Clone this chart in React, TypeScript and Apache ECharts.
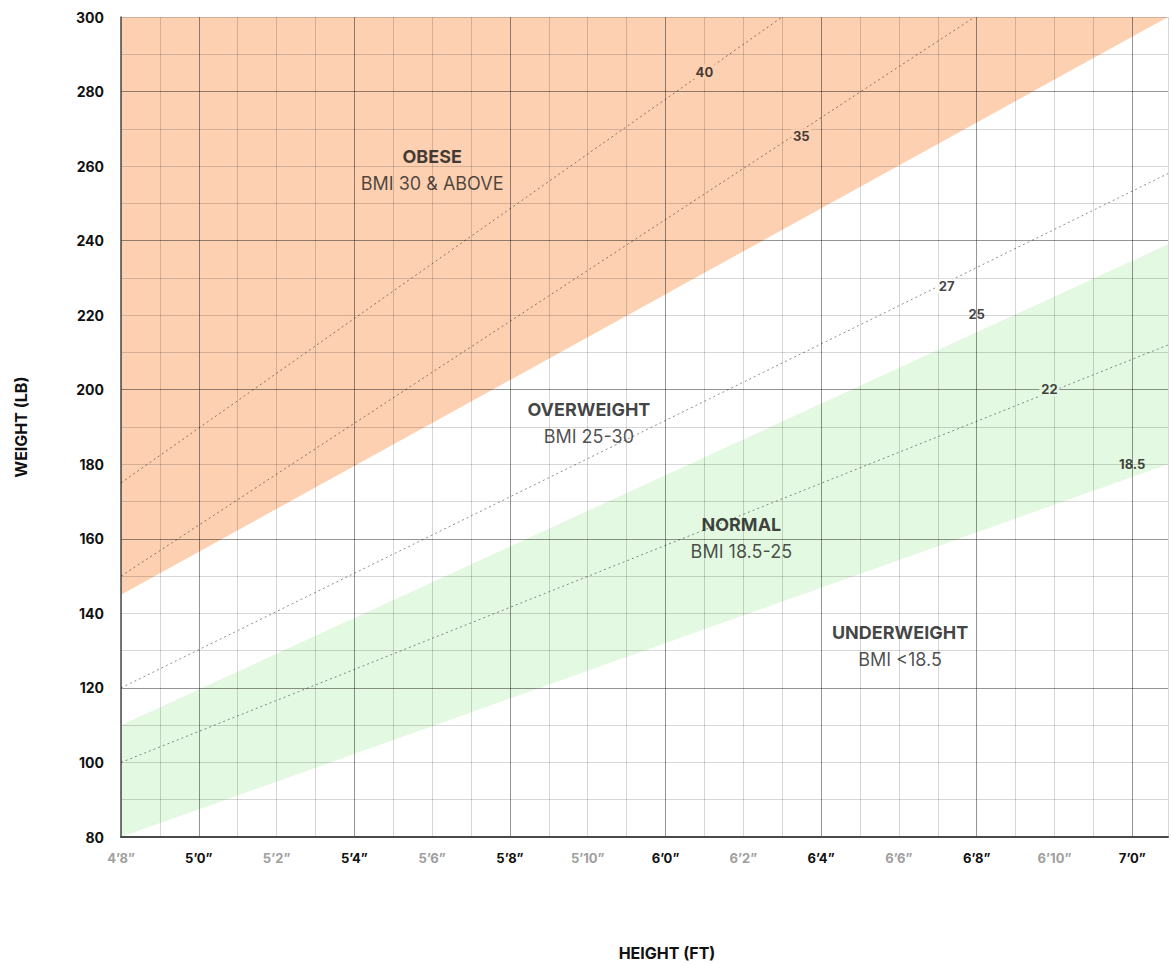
import React, { useEffect, useRef } from "react";
import * as echarts from "echarts";

// Height axis (inches). Labels placed every 2 "inches" starting at the left edge.
const heightTickValues = [58, 60, 62, 64, 66, 68, 70, 72, 74, 76, 78, 80, 82, 84];
const heightTickLabels = [
  "4’8”", "5’0”", "5’2”", "5’4”", "5’6”", "5’8”", "5’10”",
  "6’0”", "6’2”", "6’4”", "6’6”", "6’8”", "6’10”", "7’0”",
];
const heightMin = 58;
const heightMax = 84.92;
const weightMin = 80;
const weightMax = 300;

// Band edges, weight at left edge and right edge
const bandHeights = [58, 84.92];
const obeseLower = [145, 300];
const normalLower = [80, 180];
const normalUpper = [110, 239];

// Dotted BMI reference lines [height, weight]
const bmi40Line = [[58, 175], [75.0, 300]];
const bmi35Line = [[58, 150], [79.95, 300]];
const bmi27Line = [[58, 120], [84.92, 258]];
const bmi22Line = [[58, 100], [84.92, 212]];

// BMI number labels
const bmiLabelNames = ["40", "35", "27", "25", "22", "18.5"];
const bmiLabelHeights = [73.0, 75.49, 79.23, 80.0, 81.87, 84.0];
const bmiLabelWeights = [285.3, 268.1, 227.8, 220.3, 200.2, 180.1];

// Zone labels
const zoneTitles = ["OBESE", "OVERWEIGHT", "NORMAL", "UNDERWEIGHT"];
const zoneRanges = ["BMI 30 & ABOVE", "BMI 25-30", "BMI 18.5-25", "BMI <18.5"];
const zoneHeights = [66.0, 70.03, 73.95, 78.03];
const zoneWeights = [259.0, 191.1, 160.2, 131.2];

const ORANGE = "#fcd0b1";
const GREEN = "#e4f9e1";
const MINOR = "rgba(0,0,0,0.16)";
const MAJOR = "rgba(0,0,0,0.42)";
const FONT = "Inter";

export default function App() {
  const ref = useRef<HTMLDivElement>(null);

  useEffect(() => {
    if (!ref.current) return;
    const chart = echarts.init(ref.current, null, { renderer: "svg" });

    const labelBg = [ORANGE, ORANGE, "#ffffff", "transparent", GREEN, "transparent"];

    const dotted = (name: string, data: number[][]) => ({
      name,
      type: "line",
      data,
      symbol: "none",
      silent: true,
      z: 3,
      lineStyle: { type: [2, 3], width: 1, color: "rgba(0,0,0,0.45)" },
    });

    const option: any = {
      animation: false,
      grid: { left: 121, right: 0, top: 17, bottom: 128, containLabel: false },
      xAxis: {
        type: "value",
        min: heightMin,
        max: heightMax,
        interval: 1,
        z: 2,
        axisLine: { show: true, lineStyle: { color: "#4a4a4a", width: 2 } },
        axisTick: { show: false },
        splitLine: { show: true, lineStyle: { color: [MINOR, MINOR, MAJOR, MINOR], width: 1 } },
        axisLabel: {
          margin: 14,
          formatter: (v: number) => {
            const i = heightTickValues.indexOf(v);
            if (i < 0) return "";
            return (v - 58) % 4 === 0 ? `{g|${heightTickLabels[i]}}` : `{b|${heightTickLabels[i]}}`;
          },
          rich: {
            g: { color: "#a0a0a0", fontWeight: "bold", fontSize: 13, fontFamily: FONT },
            b: { color: "#111111", fontWeight: "bold", fontSize: 13, fontFamily: FONT },
          },
        },
      },
      yAxis: {
        type: "value",
        min: weightMin,
        max: weightMax,
        interval: 10,
        z: 2,
        axisLine: { show: true, lineStyle: { color: "#4a4a4a", width: 1.5 } },
        axisTick: { show: false },
        splitLine: { show: true, lineStyle: { color: [MAJOR, MINOR, MINOR, MINOR], width: 1 } },
        axisLabel: {
          margin: 17,
          color: "#111111",
          fontWeight: "bold",
          fontSize: 14,
          fontFamily: FONT,
          formatter: (v: number) => (v % 20 === 0 ? String(v) : ""),
        },
      },
      graphic: [
        {
          type: "text",
          x: 21,
          y: 427,
          rotation: Math.PI / 2,
          style: {
            text: "WEIGHT (LB)",
            textAlign: "center",
            textVerticalAlign: "middle",
            fontSize: 16,
            fontWeight: "bold",
            fontFamily: FONT,
            fill: "#111111",
          },
        },
        {
          type: "text",
          x: 667,
          y: 953,
          style: {
            text: "HEIGHT (FT)",
            textAlign: "center",
            textVerticalAlign: "middle",
            fontSize: 16,
            fontWeight: "bold",
            fontFamily: FONT,
            fill: "#111111",
          },
        },
      ],
      series: [
        {
          name: "obese",
          type: "line",
          data: bandHeights.map((h, i) => [h, obeseLower[i]]),
          symbol: "none",
          silent: true,
          z: 1,
          lineStyle: { width: 0 },
          areaStyle: { color: ORANGE, opacity: 1, origin: "end" },
        },
        {
          name: "normalUpper",
          type: "line",
          data: bandHeights.map((h, i) => [h, normalUpper[i]]),
          symbol: "none",
          silent: true,
          z: 1,
          lineStyle: { width: 0 },
          areaStyle: { color: GREEN, opacity: 1, origin: "start" },
        },
        {
          name: "normalLower",
          type: "line",
          data: bandHeights.map((h, i) => [h, normalLower[i]]),
          symbol: "none",
          silent: true,
          z: 1,
          zlevel: 0,
          lineStyle: { width: 0 },
          areaStyle: { color: "#ffffff", opacity: 1, origin: "start" },
        },
        dotted("bmi40", bmi40Line),
        dotted("bmi35", bmi35Line),
        dotted("bmi27", bmi27Line),
        dotted("bmi22", bmi22Line),
        {
          name: "bmiLabels",
          type: "scatter",
          symbolSize: 0,
          silent: true,
          z: 5,
          data: bmiLabelNames.map((n, i) => ({
            value: [bmiLabelHeights[i], bmiLabelWeights[i]],
            name: n,
            label: { backgroundColor: labelBg[i] },
          })),
          label: {
            show: true,
            position: "inside",
            formatter: (p: any) => p.name,
            color: "#111111",
            fontWeight: "bold",
            fontSize: 13,
            fontFamily: FONT,
            padding: [1, 2],
          },
        },
        {
          name: "zones",
          type: "scatter",
          symbolSize: 0,
          silent: true,
          z: 5,
          data: zoneTitles.map((t, i) => ({
            value: [zoneHeights[i], zoneWeights[i]],
            name: t,
          })),
          label: {
            show: true,
            position: "inside",
            formatter: (p: any) => `{t|${p.name}}\n{s|${zoneRanges[p.dataIndex]}}`,
            rich: {
              t: { fontSize: 18, fontWeight: "bold", color: "#111111", fontFamily: FONT, lineHeight: 27, align: "center" },
              s: { fontSize: 18, color: "#1f1f1f", fontFamily: FONT, lineHeight: 27, align: "center" },
            },
          },
        },
      ],
    };

    chart.setOption(option);
    return () => chart.dispose();
  }, []);

  return (
    <div
      ref={ref}
      style={{ position: "absolute", left: 0, top: 0, width: 1171, height: 965 }}
    />
  );
}
